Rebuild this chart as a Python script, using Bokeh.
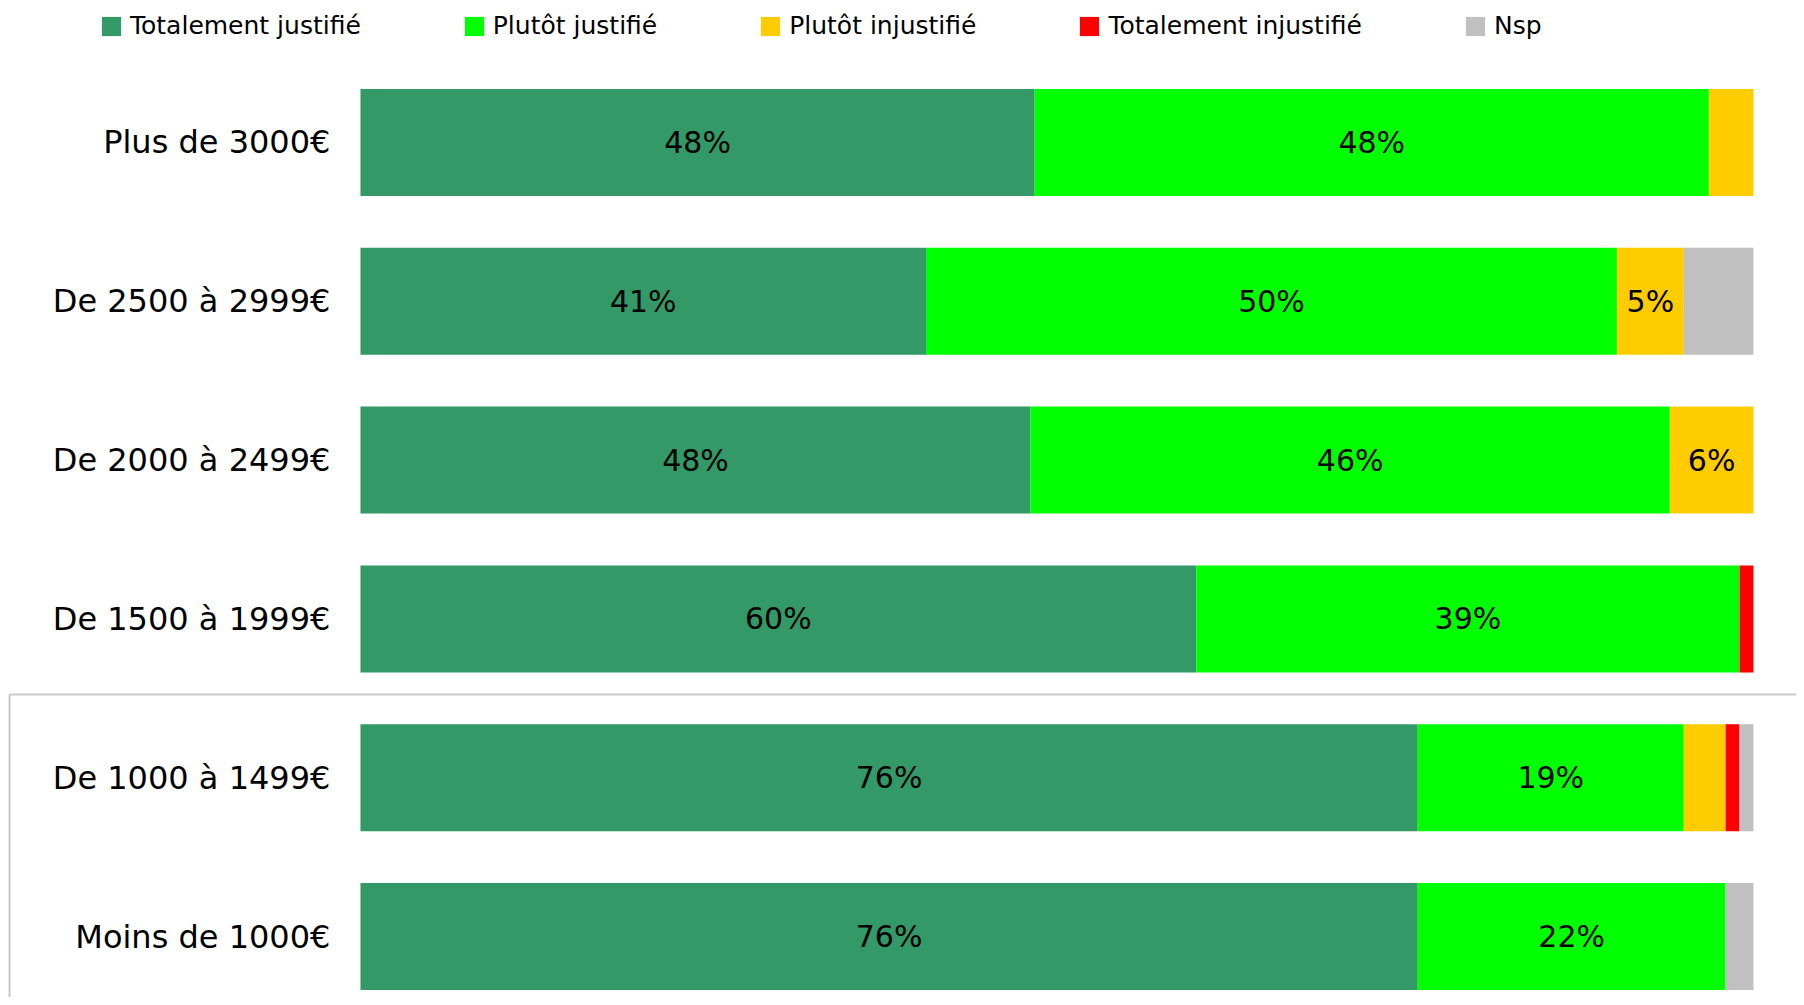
import numpy as np
from bokeh.plotting import figure
from bokeh.models import ColumnDataSource, Range1d, LinearAxis, FixedTicker, Legend, LegendItem
from bokeh.core.properties import value
from bokeh.embed import file_html
from bokeh.resources import INLINE

# ---- data (top to bottom) ----
categories = ["Plus de 3000€", "De 2500 à 2999€", "De 2000 à 2499€",
              "De 1500 à 1999€", "De 1000 à 1499€", "Moins de 1000€"]
series = ["Totalement justifié", "Plutôt justifié", "Plutôt injustifié",
          "Totalement injustifié", "Nsp"]
colors = ["#339966", "#00FF00", "#FFCC00", "#FF0000", "#C0C0C0"]
totalement_justifie = [48.4, 40.6, 48.1, 60.0, 75.9, 75.9]
plutot_justifie = [48.4, 49.6, 45.9, 39.0, 19.1, 22.1]
plutot_injustifie = [3.2, 4.8, 6.0, 0.0, 3.0, 0.0]
totalement_injustifie = [0.0, 0.0, 0.0, 1.0, 1.0, 0.0]
nsp = [0.0, 5.0, 0.0, 0.0, 1.0, 2.0]
labelled_series = [True, True, True, True, False]

values = [totalement_justifie, plutot_justifie, plutot_injustifie,
          totalement_injustifie, nsp]

n = len(categories)
ys = [n - 1 - i for i in range(n)]  # top category highest

W, H = 1796, 997
p = figure(width=W, height=H, output_backend="svg", toolbar_location=None,
           x_range=Range1d(-25.84, 103.09), y_range=Range1d(-0.384, 5.894),
           x_axis_location=None, y_axis_location=None,
           min_border=0, min_border_left=0, min_border_right=0,
           min_border_top=0, min_border_bottom=0)
p.outline_line_color = None
p.xgrid.visible = False
p.ygrid.visible = False
p.background_fill_color = "white"
p.border_fill_color = "white"

# decorative grey frame lines (lower block)
ysep = 1.524
x0 = -25.19
p.line([x0, p.x_range.end], [ysep, ysep], line_color="#c8c8c8", line_width=2)
p.line([x0, x0], [ysep, p.y_range.start], line_color="#c8c8c8", line_width=2)

bar_h = 0.674
left = np.zeros(n)
renderers = []
lab_x, lab_y, lab_t = [], [], []
for s, c, vals, lab in zip(series, colors, values, labelled_series):
    v = np.array(vals, dtype=float)
    right = left + v
    src = ColumnDataSource(dict(y=ys, left=left.copy(), right=right.copy()))
    r = p.hbar(y="y", left="left", right="right", height=bar_h, source=src,
               fill_color=c, line_color=None)
    renderers.append(r)
    if lab:
        for yi, l, vv in zip(ys, left, v):
            if vv >= 4.5:
                lab_x.append(l + vv / 2)
                lab_y.append(yi)
                lab_t.append(f"{int(round(vv))}%")
    left = right

p.text(x=lab_x, y=lab_y, text=lab_t, text_align="center", text_baseline="middle",
       text_font=value("DejaVu Sans"), text_font_size="30px", text_color="black")

yaxis = LinearAxis(fixed_location=0, ticker=FixedTicker(ticks=ys),
                   major_label_overrides={y: c for y, c in zip(ys, categories)})
yaxis.axis_line_color = None
yaxis.major_tick_line_color = None
yaxis.minor_tick_line_color = None
yaxis.major_tick_out = 0
yaxis.major_tick_in = 0
yaxis.major_label_standoff = 30
yaxis.major_label_text_font = "DejaVu Sans"
yaxis.major_label_text_font_size = "32px"
yaxis.major_label_text_color = "black"
p.add_layout(yaxis, "left")

legend = Legend(items=[LegendItem(label=s, renderers=[r]) for s, r in zip(series, renderers)],
                orientation="horizontal", location=(99, 957),
                glyph_width=24, glyph_height=24, label_standoff=7, spacing=101,
                padding=0, margin=0, border_line_color=None,
                background_fill_alpha=0,
                label_text_font="DejaVu Sans", label_text_font_size="25px",
                label_text_color="black")
p.add_layout(legend)

open("out.html", "w").write(file_html(p, INLINE))
